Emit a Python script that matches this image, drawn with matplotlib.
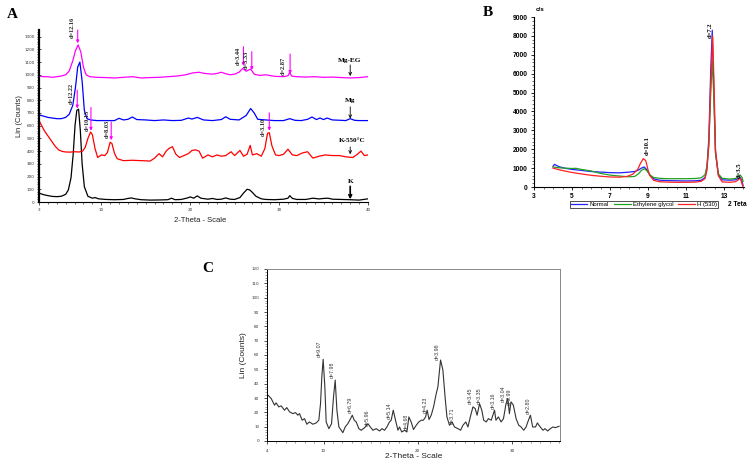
import matplotlib
matplotlib.use("Agg")
import matplotlib.pyplot as plt
from matplotlib.ticker import FixedLocator, MultipleLocator

# ---------------- Panel A data ----------------
k_x = [3.0, 3.5, 4.0, 4.5, 5.0, 5.5, 6.0, 6.3, 6.6, 6.85, 7.05, 7.25, 7.45, 7.65, 7.85, 8.1, 8.5, 9.0, 9.3, 9.7,
       10.5, 11.5, 12.5, 13.0, 13.4, 13.8, 14.5, 15.5, 16.5, 17.5, 17.9, 18.3, 19.0, 19.7, 20.0, 20.4, 20.8, 21.2,
       22.0, 22.5, 23.0, 23.5, 24.0, 24.5, 25.0, 25.6, 26.0, 26.4, 26.7, 27.0, 27.4, 28.0, 28.5, 29.5, 30.5, 31.0,
       31.2, 31.5, 32.0, 33.0, 33.8, 34.5, 35.0, 35.5, 36.0, 37.0, 38.0, 39.0, 39.5, 40.0]
k_y = [70, 58, 50, 44, 42, 45, 60, 95, 190, 380, 600, 720, 730, 560, 300, 120, 45, 30, 35, 25,
       20, 18, 20, 28, 32, 25, 18, 15, 16, 18, 30, 18, 20, 32, 40, 30, 48, 30,
       22, 28, 20, 22, 32, 22, 20, 35, 70, 100, 95, 75, 45, 25, 20, 18, 22, 30,
       50, 28, 20, 20, 30, 24, 28, 30, 22, 20, 18, 15, 20, 25]

k550_x = [3.0, 3.3, 3.6, 4.0, 4.4, 4.8, 5.2, 5.6, 6.0, 6.5, 7.0, 7.5, 7.9, 8.2, 8.5, 8.8, 9.0, 9.3, 9.6, 10.0,
          10.4, 10.7, 11.0, 11.2, 11.5, 11.8, 12.5, 13.5, 14.5, 15.5, 16.0, 16.5, 16.9, 17.3, 17.6, 18.0, 18.4,
          18.8, 19.3, 19.8, 20.2, 20.6, 21.0, 21.4, 22.0, 22.5, 23.0, 23.5, 24.0, 24.6, 25.0, 25.6, 26.0, 26.4,
          26.75, 27.0, 27.5, 28.0, 28.4, 28.7, 28.9, 29.2, 29.6, 30.0, 30.5, 31.0, 31.5, 32.0, 32.6, 33.2, 33.8,
          34.5, 35.2, 36.0, 36.8, 37.5, 38.3, 38.8, 39.2, 39.6, 40.0]
k550_y = [640, 600, 560, 520, 480, 440, 410, 398, 393, 392, 395, 393, 400, 430, 500, 550, 530, 420, 350, 370,
          365, 390, 470, 460, 380, 340, 325, 328, 325, 322, 345, 380, 355, 400, 420, 435, 375,
          350, 365, 380, 405, 410, 400, 345, 370, 355, 370, 360, 365, 395, 365, 405, 360, 375,
          445, 370, 380, 360, 420, 540, 545, 440, 370, 365, 375, 415, 370, 365, 385, 395, 345,
          360, 370, 365, 365, 355, 350, 375, 400, 365, 370]

mg_x = [3.0, 3.5, 4.0, 4.5, 5.0, 5.5, 6.0, 6.4, 6.8, 7.1, 7.35, 7.6, 7.85, 8.1, 8.4, 8.8, 9.5, 10.5, 11.5, 12.0,
        12.5, 13.0, 13.5, 14.0, 15.0, 16.0, 17.0, 18.0, 19.0, 19.8, 20.2, 20.8, 21.5, 22.5, 23.5, 24.0, 24.5,
        25.5, 26.3, 26.8, 27.2, 27.6, 28.5, 29.5, 30.5, 31.2, 31.8, 32.5, 33.2, 33.7, 34.2, 34.6, 35.0, 35.4,
        36.0, 37.0, 37.5, 38.0, 38.5, 39.0, 40.0]
mg_y = [685, 675, 665, 660, 655, 655, 665, 690, 760, 900, 1060, 1100, 950, 720, 655, 645, 640, 640, 640, 658,
        645, 650, 668, 648, 645, 640, 645, 640, 642, 660, 652, 665, 645, 640, 648, 670, 650,
        645, 680, 735, 700, 650, 645, 640, 640, 655, 642, 640, 650, 668, 648, 660, 648, 660,
        645, 642, 640, 655, 642, 640, 640]

mgeg_x = [3.0, 3.5, 4.0, 4.5, 5.0, 5.5, 6.0, 6.4, 6.8, 7.1, 7.4, 7.7, 8.0, 8.3, 8.7, 9.5, 10.5, 11.5, 12.5, 13.5,
          14.5, 15.5, 16.5, 17.5, 18.5, 19.5, 20.3, 21.0, 21.5, 22.0, 22.5, 23.0, 23.5, 24.0, 24.5, 25.0, 25.5,
          25.9, 26.3, 26.8, 27.2, 27.8, 28.5, 29.5, 30.5, 31.0, 31.2, 31.4, 32.0, 33.0, 34.0, 35.0, 36.0, 37.0,
          38.0, 39.0, 40.0]
mgeg_y = [990, 985, 985, 980, 985, 990, 1000, 1030, 1110, 1190, 1235, 1180, 1060, 1000, 985, 980, 978, 975, 980, 985,
          975, 978, 980, 985, 990, 1000, 1015, 1020, 1012, 1008, 1005, 1010, 1020, 1008, 1000, 1005, 1020,
          1050, 1028, 1045, 1005, 995, 1000, 988, 985, 992, 1020, 990, 985, 982, 985, 980, 982, 978,
          975, 978, 985]

a_xticks = [3, 10, 20, 30, 40]
a_yticks = list(range(0, 1400, 100))

# peak annotations: (label, arrow x, arrow top, arrow tip, text x, text bottom)
a_peaks = [
    ("d=12.16", 7.35, 1352, 1247, 6.7, 1290),
    ("d=12.22", 7.3, 880, 735, 6.6, 770),
    ("d=10.15", 8.84, 743, 560, 8.4, 560),
    ("d=8.03", 11.12, 630, 486, 10.65, 505),
    ("d=3.10", 28.9, 701, 560, 28.2, 520),
    ("d=3.44", 25.99, 1221, 1069, 25.4, 1080),
    ("d=3.33", 26.93, 1182, 1037, 26.35, 1045),
    ("d=2.87", 31.24, 1163, 1006, 30.5, 995),
]
# sample labels: (text, x, text y, arrow top, arrow tip)
a_samples = [
    ("Mg-EG", 37.9, 1116, 1077, 990),
    ("Mg", 38.0, 801, 748, 656),
    ("K-550°C", 38.2, 486, 433, 375),
    ("K", 38.0, 158, 123, 21),
]

# ---------------- Panel B data ----------------
bn_x = [4.0, 4.08, 4.3, 4.6, 5.0, 5.5, 6.0, 6.5, 7.0, 7.5, 7.9, 8.3, 8.5, 8.65, 8.8, 8.95, 9.1, 9.3, 9.6, 10.0,
        10.5, 11.0, 11.5, 11.8, 12.0, 12.1, 12.2, 12.3, 12.38, 12.46, 12.55, 12.7, 12.9, 13.3, 13.6, 13.75, 13.85, 13.95, 14.0]
bn_y = [1100, 1200, 1080, 1000, 930, 880, 820, 790, 760, 750, 780, 820, 900, 1000, 1060, 900, 620, 430, 360, 340,
        330, 320, 330, 360, 500, 1000, 2600, 6200, 8300, 5200, 1800, 650, 380, 360, 380, 450, 520, 300, 80]
bg_x = [4.0, 4.3, 4.6, 5.0, 5.2, 5.5, 6.0, 6.5, 7.0, 7.5, 8.0, 8.3, 8.5, 8.65, 8.8, 8.95, 9.1, 9.3, 9.6, 10.0,
        10.5, 11.0, 11.5, 11.8, 12.0, 12.1, 12.2, 12.3, 12.38, 12.46, 12.55, 12.7, 12.9, 13.3, 13.6, 13.75, 13.85, 13.95, 14.0]
bg_y = [1060, 1020, 1000, 980, 990, 930, 850, 720, 630, 580, 540, 560, 700, 880, 970, 850, 640, 500, 460, 440,
        440, 440, 450, 490, 650, 1100, 2300, 5000, 6700, 4800, 1800, 700, 460, 420, 450, 560, 640, 500, 300]
bh_x = [4.0, 4.3, 4.6, 5.0, 5.5, 6.0, 6.5, 7.0, 7.5, 7.9, 8.2, 8.45, 8.6, 8.75, 8.88, 9.0, 9.1, 9.3, 9.6, 10.0,
        10.5, 11.0, 11.5, 11.8, 12.0, 12.1, 12.2, 12.3, 12.4, 12.47, 12.55, 12.7, 12.9, 13.3, 13.6, 13.75, 13.85, 13.95, 14.0]
bh_y = [1000, 920, 850, 770, 690, 620, 570, 530, 520, 560, 680, 920, 1250, 1500, 1400, 900, 600, 350, 280, 260,
        250, 250, 260, 300, 450, 900, 2200, 5500, 8000, 5600, 2000, 600, 270, 250, 280, 380, 480, 150, 0]
b_names = ["Normal", "Ethylene glycol", "H (530)"]
b_xticks = [3, 5, 7, 9, 11, 13]
b_yticks = list(range(0, 10000, 1000))
b_peaks = [("d=10.1", 8.95, 1700), ("d=7.2", 12.28, 7900), ("d=3.5", 13.82, 450)]

# ---------------- Panel C data ----------------
c_x = [4.1, 4.44, 4.8, 4.97, 5.25, 5.5, 5.86, 6.1, 6.4, 6.75, 7.03, 7.27, 7.45, 7.73, 7.98, 8.23, 8.5, 8.87,
       9.22, 9.5, 9.68, 9.82, 9.96, 10.14, 10.28, 10.57, 10.85, 11.06, 11.24, 11.42, 11.63, 11.88, 12.05, 12.3,
       12.58, 12.87, 13.05, 13.26, 13.47, 13.75, 14.0, 14.36, 14.71, 14.96, 15.24, 15.6, 15.95, 16.2, 16.48,
       16.73, 17.0, 17.18, 17.4, 17.64, 17.9, 18.07, 18.3, 18.6, 18.85, 19.06, 19.3, 19.55, 19.84, 20.12, 20.37,
       20.6, 20.83, 21.0, 21.2, 21.43, 21.68, 21.96, 22.14, 22.42, 22.67, 22.9, 23.1, 23.37, 23.65, 23.9, 24.27,
       24.55, 24.8, 25.1, 25.33, 25.58, 25.86, 26.1, 26.3, 26.56, 26.8, 27.0, 27.27, 27.5, 27.8, 28.15, 28.3,
       28.56, 28.85, 29.1, 29.37, 29.56, 29.73, 29.9, 30.15, 30.44, 30.72, 30.97, 31.25, 31.5, 31.75, 31.96,
       32.2, 32.5, 32.7, 33.0, 33.3, 33.5, 33.8, 34.07, 34.35, 34.6, 35.0]
c_y = [32, 29.7, 25, 26.6, 23.8, 24.5, 21.5, 23.3, 20.3, 19.1, 19.8, 18, 19.1, 14.5, 15.6, 11.7, 13.3, 11.7,
       12.6, 14.5, 26, 44.8, 57, 37.8, 13.3, 8.6, 12.1, 30.8, 42.5, 21.5, 9.8, 7.5, 5.8, 9.8,
       12.1, 15.6, 18, 14.5, 13.3, 8.6, 7.5, 9.3, 12.1, 9.8, 7.5, 8.6, 7, 8.6, 7.5,
       9.8, 13.3, 14.5, 21.5, 14.5, 7.5, 9.8, 6.3, 7.5, 6.3, 16.8, 13.3, 8, 11, 13.3, 14.5,
       14.5, 16.8, 21.5, 15, 18, 23.8, 33, 37.8, 56.5, 49.5, 30.8, 16.8, 11, 13.3, 9.8, 8.6,
       7.5, 11, 13.3, 9.8, 16.8, 23.8, 22.6, 18, 26, 21.5, 14.5, 13.3, 15.6, 14.5, 21.5, 14.5,
       16.8, 13.3, 15.6, 26, 29.7, 19.1, 27.3, 25, 15.6, 11, 9.8, 7.5, 9.8, 14.5, 18,
       9.8, 9.8, 12.6, 9.8, 7.5, 8.6, 7, 8.6, 9.8, 9.3, 10.3]
c_xticks = [4, 10, 20, 30]
c_yticks = list(range(0, 130, 10))
# (label, text x, text bottom y)
c_peaks = [("d=9.07", 9.58, 58.5), ("d=7.98", 10.9, 43.7), ("d=6.79", 12.8, 19.6), ("d=5.96", 14.6, 10.3),
           ("d=5.14", 17.0, 15.6), ("d=4.68", 18.8, 7.5), ("d=4.23", 20.8, 19.6), ("d=3.98", 22.1, 56.5),
           ("d=3.71", 23.65, 12.1), ("d=3.45", 25.6, 26.0), ("d=3.35", 26.5, 26.0), ("d=3.16", 28.0, 22.6),
           ("d=3.04", 29.1, 27.3), ("d=2.99", 29.7, 25.0), ("d=2.80", 31.7, 19.1)]

SERIF = ["Liberation Serif", "DejaVu Serif"]
SANS = ["Liberation Sans", "DejaVu Sans"]

fig = plt.figure(figsize=(7.5, 4.68), dpi=100)
W, H = 750.0, 468.0

def rect(l, t, r, b):
    return [l / W, 1 - b / H, (r - l) / W, (b - t) / H]

# ================= Panel A =================
axA = fig.add_axes(rect(39, 30, 368, 202))
axA.plot(k_x, k_y, color="black", lw=0.9)
axA.plot(k550_x, k550_y, color="#ff0000", lw=0.9)
axA.plot(mg_x, mg_y, color="#0000ff", lw=0.9)
axA.plot(mgeg_x, mgeg_y, color="#ff00ff", lw=0.9)
axA.set_xlim(3, 40)
axA.set_ylim(0, 1352)
for s in ["top", "right"]:
    axA.spines[s].set_visible(False)
axA.spines["left"].set_linewidth(1.6)
axA.spines["bottom"].set_linewidth(0.8)
axA.xaxis.set_major_locator(FixedLocator(a_xticks))
axA.xaxis.set_minor_locator(MultipleLocator(1))
axA.yaxis.set_major_locator(FixedLocator(a_yticks))
axA.yaxis.set_minor_locator(MultipleLocator(20))
axA.tick_params(axis="both", which="major", labelsize=3, length=2.5, width=0.6, colors="#333333", pad=2)
axA.tick_params(axis="both", which="minor", length=1.5, width=0.4)
axA.tick_params(axis="y", direction="inout")
axA.set_xlabel("2-Theta - Scale", fontsize=5.5, family=SANS, color="#222222")
axA.xaxis.set_label_coords(0.49, -0.085)
axA.set_ylabel("Lin (Counts)", fontsize=5.5, family=SANS, color="#222222")
axA.yaxis.set_label_coords(-0.048, 0.5)
for lab, xa, ytop, ytip, xt, yb in a_peaks:
    axA.annotate("", xy=(xa, ytip), xytext=(xa, ytop),
                 arrowprops=dict(arrowstyle="-|>", color="#ff00ff", lw=0.8, mutation_scale=4,
                                 shrinkA=0, shrinkB=0), annotation_clip=False)
    axA.text(xt, yb, lab, rotation=90, ha="center", va="bottom", fontsize=4.5,
             family=SERIF, weight="bold", color="#222222", clip_on=False)
for lab, xs, yt, ytop, ytip in a_samples:
    axA.text(xs, yt, lab, ha="center", va="center", fontsize=5.2, family=SERIF, weight="bold")
    axA.annotate("", xy=(38.0, ytip), xytext=(38.0, ytop),
                 arrowprops=dict(arrowstyle="->", color="black",
                                 lw=1.2 if lab == "K" else 0.6, mutation_scale=5,
                                 shrinkA=0, shrinkB=0))

fig.text(12 / W, 1 - 15 / H, "A", fontsize=11, family=SERIF, weight="bold", ha="center", va="center")

# ================= Panel B =================
axB = fig.add_axes(rect(534, 17, 744, 187))
lb1, = axB.plot(bn_x, bn_y, color="#2222ff", lw=0.9)
lb2, = axB.plot(bg_x, bg_y, color="#22a022", lw=0.9)
lb3, = axB.plot(bh_x, bh_y, color="#ff2020", lw=0.9)
axB.set_xlim(3, 14.05)
axB.set_ylim(0, 9000)
for s in ["top", "right"]:
    axB.spines[s].set_visible(False)
axB.spines["left"].set_linewidth(0.8)
axB.spines["bottom"].set_linewidth(0.8)
axB.xaxis.set_major_locator(FixedLocator(b_xticks))
axB.xaxis.set_minor_locator(MultipleLocator(0.5))
axB.yaxis.set_major_locator(FixedLocator(b_yticks))
axB.yaxis.set_minor_locator(MultipleLocator(200))
axB.tick_params(axis="both", which="major", labelsize=4.8, length=2.5, width=0.6, pad=2)
axB.tick_params(axis="both", which="minor", length=1.3, width=0.4)
for t in axB.get_xticklabels() + axB.get_yticklabels():
    t.set_fontweight("bold")
    t.set_family(SANS)
for lab, xp, yp in b_peaks:
    axB.text(xp, yp, lab, rotation=90, ha="center", va="bottom", fontsize=4.8,
             family=SERIF, weight="bold", clip_on=False)
axB.text(0.03, 1.03, "c/s", transform=axB.transAxes, fontsize=4.5, family=SANS,
         weight="bold", ha="center", va="bottom")
axB.text(0.97, -0.1, "2 Teta", transform=axB.transAxes, fontsize=4.8, family=SANS,
         weight="bold", ha="center", va="center")
leg = fig.legend([lb1, lb2, lb3], b_names, loc="center", bbox_to_anchor=(644 / W, 1 - 204.5 / H),
                 ncol=3, frameon=True, fancybox=False, edgecolor="black",
                 handlelength=2.8, handletextpad=0.4, columnspacing=0.8, borderpad=0.15,
                 prop={"family": SANS, "size": 4.3})
leg.get_frame().set_linewidth(0.6)

fig.text(488 / W, 1 - 13 / H, "B", fontsize=11, family=SERIF, weight="bold", ha="center", va="center")

# ================= Panel C =================
axC = fig.add_axes(rect(267, 269, 560, 441))
axC.plot(c_x, c_y, color="#333333", lw=0.8)
axC.set_xlim(4, 35.1)
axC.set_ylim(0, 120)
axC.spines["top"].set_color("#888888")
axC.spines["right"].set_color("#888888")
for s in axC.spines.values():
    s.set_linewidth(0.7)
axC.xaxis.set_major_locator(FixedLocator(c_xticks))
axC.xaxis.set_minor_locator(MultipleLocator(1))
axC.yaxis.set_major_locator(FixedLocator(c_yticks))
axC.yaxis.set_minor_locator(MultipleLocator(2))
axC.tick_params(axis="both", which="major", labelsize=3, length=2.5, width=0.6, colors="#333333", pad=3)
axC.tick_params(axis="both", which="minor", length=1.3, width=0.4, colors="#555555")
axC.set_xlabel("2-Theta - Scale", fontsize=6, family=SANS, color="#222222")
axC.xaxis.set_label_coords(0.5, -0.07)
axC.set_ylabel("Lin (Counts)", fontsize=6, family=SANS, color="#222222")
axC.yaxis.set_label_coords(-0.068, 0.5)
for lab, xt, yb in c_peaks:
    axC.text(xt, yb, lab, rotation=90, ha="center", va="bottom", fontsize=3.8,
             family=SANS, color="#333333")

fig.text(208 / W, 1 - 268 / H, "C", fontsize=11, family=SERIF, weight="bold", ha="center", va="center")

fig.savefig("out.png", dpi=100)
